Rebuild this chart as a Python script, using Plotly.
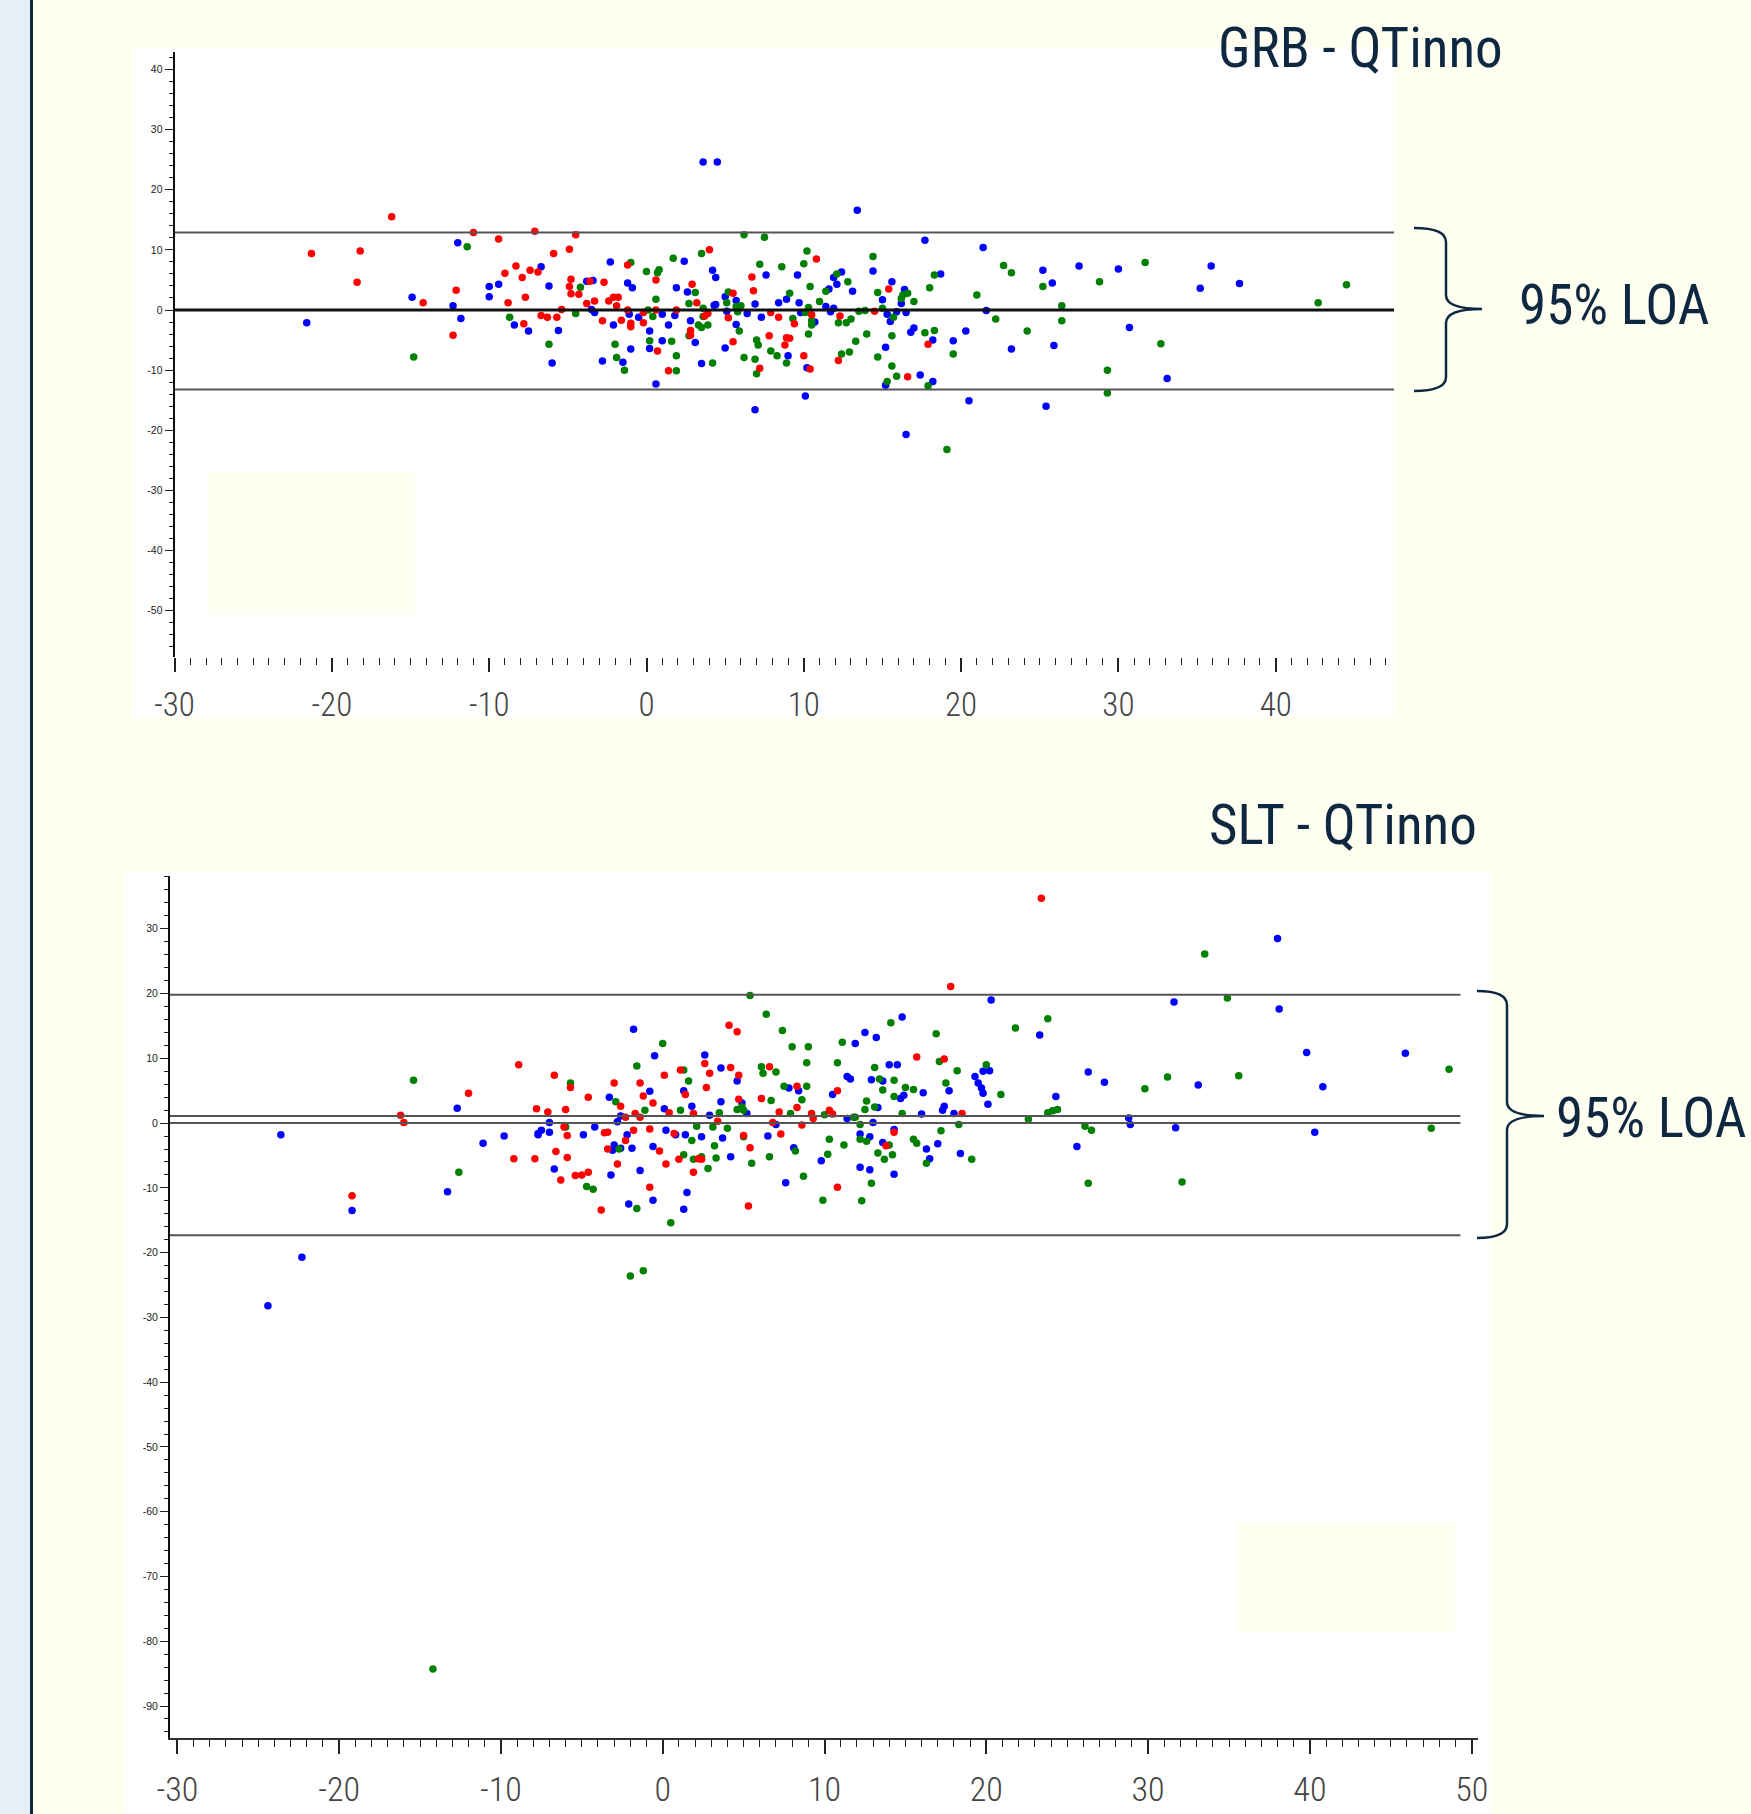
import plotly.graph_objects as go

W, H = 1751, 1814

# ---------------- GRB - QTinno (top) ----------------
grb_red_x = [-21.3, -18.2, -18.4, -16.2, -14.2, -12.1, -12.3, -11.0, -9.4, -9.0, -8.8, -8.3, -7.9, -7.7, -7.4, -6.9,
             -7.1, -7.8, -6.7, -6.3, -5.7, -5.9, -5.4, -4.9, -4.5, -4.8, -4.9, -4.8, -4.3, -3.8, -3.6, -3.3, -2.7,
             -2.8, -2.4, -2.1, -1.8, -1.9, -1.2, -1.6, -1.0, -1.0, -1.2, -0.2, -0.2, 0.6, 0.6, 0.7, 1.4, 1.9, 2.9,
             3.2, 2.8, 2.8, 3.9, 4.0, 3.7, 5.5, 5.2, 5.5, 6.7, 6.8, 7.2, 7.8, 7.9, 8.4, 8.9, 8.8, 10.8, 9.4, 9.1,
             10.5, 10.0, 10.4, 12.3, 12.2, 14.5, 15.4, 17.9, 16.6]
grb_red_y = [9.4, 9.8, 4.6, 15.5, 1.2, 3.3, -4.2, 12.9, 11.8, 6.1, 1.2, 7.3, 5.4, 2.1, 6.6, 6.3,
             13.1, -2.3, -0.9, -1.2, -1.2, 9.4, 0.1, 10.1, 12.5, 5.1, 3.9, 2.7, 2.6, 1.1, 4.8, 1.5, 4.6,
             -1.8, 1.5, 2.1, 2.1, 0.7, 0.0, -1.7, -2.2, -2.8, 7.5, -2.1, -0.4, 5.0, 0.0, -6.8, -10.1, 0.0, 4.3,
             1.2, -3.4, -4.2, -0.6, 10.0, -1.0, 2.8, -1.3, -5.3, 5.5, 3.2, -9.7, -4.3, -0.4, -1.2, -4.6, -5.8, 8.5, -2.3, -4.7,
             -0.8, -7.6, -9.8, -1.0, -8.4, -0.2, 3.5, -5.7, -11.1]

grb_blue_x = [-21.6, -14.9, -12.3, -11.8, -12.0, -10.0, -10.0, -9.4, -8.4, -7.5, -6.7, -6.2, -5.6, -6.0, -3.8, -3.4,
              -3.5, -3.3, -2.8, -2.3, -2.1, -1.5, -1.2, -0.9, -1.1, -1.0, -0.5, 0.2, 0.2, 1.0, 1.0, 0.6, 1.4, 1.8,
              1.9, 2.4, 2.6, 2.8, 3.1, 3.5, 4.2, 4.4, 4.3, 4.4, 5.0, 5.1, 5.7, 5.7, 5.0, 6.4, 6.9, 7.3, 7.6, 6.9,
              8.4, 8.9, 9.0, 3.6, 4.5, 9.7, 9.6, 9.8, 10.7, 10.2, 10.1, 11.4, 11.7, 11.9, 11.6, 11.9, 12.1, 12.4,
              13.1, 13.4, 14.4, 15.0, 15.3, 15.5, 15.6, 15.9, 16.4, 16.2, 16.5, 16.8, 17.0, 15.2, 15.2, 17.4, 18.2,
              18.2, 17.7, 18.7, 16.5, 19.5, 20.3, 20.5, 21.4, 21.6, 23.2, 25.2, 25.8, 25.9, 25.4, 27.5, 30.0, 30.7,
              33.1, 35.2, 35.9, 37.7]
grb_blue_y = [-2.1, 2.1, 0.7, -1.4, 11.2, 3.9, 2.2, 4.3, -2.5, -3.5, 7.2, 4.0, -3.4, -8.8, 4.8, 4.9,
              0.1, -0.4, -8.5, 8.0, -2.5, -8.7, 4.5, 3.7, -0.7, -6.5, -1.2, -3.5, -6.4, -0.7, -5.1, -12.3, -2.5, -0.9,
              3.7, 8.1, 3.0, -1.8, -5.4, -8.9, 6.6, 5.4, 0.8, 0.9, 2.2, -0.2, -2.4, 1.6, -6.3, -0.6, 1.0, -1.2, 5.8, -16.6,
              1.2, 1.8, -7.6, 24.6, 24.6, 1.2, 5.8, -0.4, -2.0, -9.6, -14.3, 0.6, -0.3, 0.3, 3.5, 5.4, 4.3, 6.3,
              3.1, 16.6, 6.5, 1.7, -0.7, -1.9, 4.7, -0.3, 3.4, 1.1, -0.4, -3.7, -3.0, -6.2, -12.5, -10.8, -11.9,
              -5.0, 11.6, 6.0, -20.7, -5.1, -3.5, -15.1, 10.4, -0.1, -6.5, 6.6, 4.5, -5.9, -16.0, 7.3, 6.8, -2.9,
              -11.4, 3.6, 7.3, 4.4]

grb_green_x = [-11.4, -14.8, -8.7, -6.2, -4.2, -4.5, -2.0, -1.9, -1.4, -1.0, 0.0, 0.6, 0.7, 0.8, 0.2, 0.1, 0.4,
               1.6, 1.9, 1.9, 1.7, 2.7, 2.7, 3.1, 3.5, 3.6, 3.6, 3.3, 3.5, 3.9, 4.2, 5.1, 5.2, 5.7, 5.8, 6.0, 5.9,
               6.2, 6.2, 6.9, 7.0, 7.1, 7.0, 7.2, 7.5, 7.9, 8.3, 8.6, 8.9, 9.1, 10.2, 10.0, 10.4, 9.3, 10.3, 10.1,
               10.5, 10.5, 10.3, 11.0, 11.4, 12.1, 12.8, 12.2, 12.7, 13.0, 13.3, 14.0, 12.4, 12.9, 13.5, 13.9, 14.4,
               14.7, 15.0, 14.7, 15.6, 15.6, 15.3, 15.7, 15.9, 16.2, 16.3, 16.6, 17.0, 17.7, 18.3, 18.0, 18.3, 17.9,
               19.5, 19.1, 21.0, 22.2, 22.7, 23.2, 24.2, 25.2, 26.4, 26.4, 28.8, 29.3, 29.3, 31.7, 32.7, 42.7, 44.5]
grb_green_y = [10.5, -7.8, -1.2, -5.7, 3.8, -0.6, -5.7, -7.9, -10.0, 7.9, 6.4, 1.8, 6.2, 6.7, -5.1, 0.0, -1.1,
               -5.2, -7.6, -10.1, 8.6, 1.1, -4.3, 2.9, 9.4, 0.3, -1.1, -2.5, -2.9, -2.5, -8.8, 1.2, 3.0, 0.6, -0.3, 0.7, -3.5,
               12.5, -7.9, -8.2, -5.0, -5.8, -10.6, 7.6, 12.1, -6.8, -7.6, 7.2, -8.8, 2.8, 9.8, 7.7, 3.9, -1.4, 0.4, -0.4,
               -1.8, -2.5, -4.0, 1.4, 3.1, 6.0, 4.7, -2.1, -2.1, -1.5, -5.2, -4.0, -7.3, -7.0, -0.2, -0.1, 8.9,
               2.9, 0.3, -7.8, -4.3, -9.3, -11.9, -1.2, -11.0, 1.9, 2.5, 2.8, 1.4, -3.8, -3.4, 3.7, 5.8, -12.6,
               -7.3, -23.2, 2.5, -1.5, 7.4, 6.2, -3.5, 3.9, 0.7, -1.8, 4.7, -10.0, -13.8, 7.9, -5.6, 1.2, 4.2]

grb_loa = [12.9, -13.2]
grb_mean = [0.0]

# ---------------- SLT - QTinno (bottom) ----------------
slt_blue_x = [-24.4, -23.6, -22.3, -19.2, -12.7, -13.3, -11.1, -9.8, -7.7, -7.5, -7.0, -7.7, -7.0, -6.7, -4.9, -4.2,
              -3.3, -3.2, -3.0, -2.6, -3.1, -2.8, -2.6, -2.2, -2.1, -1.8, -1.9, -1.4, -0.8, -0.5, -0.6, -0.6, 0.1,
              0.2, 0.8, 1.4, 1.3, 1.5, 1.8, 2.4, 2.6, 2.9, 1.3, 3.6, 3.6, 3.7, 4.2, 4.6, 4.9, 5.2, 6.5, 7.0, 7.8,
              8.4, 8.1, 7.6, 9.8, 10.5, 11.4, 11.4, 11.6, 11.9, 12.5, 13.2, 12.2, 12.8, 12.9, 13.6, 13.3, 13.0,
              12.2, 12.8, 13.6, 14.3, 14.3, 14.0, 14.5, 14.8, 14.7, 14.9, 16.1, 16.0, 16.3, 16.5, 17.0, 17.3, 17.4,
              17.7, 18.0, 18.4, 19.3, 19.5, 19.7, 19.8, 19.8, 20.2, 20.1, 20.3, 23.3, 24.3, 25.6, 26.3, 27.3, 28.8,
              28.9, 31.6, 31.7, 33.1, 38.0, 38.1, 39.8, 40.8, 40.3, 45.9]
slt_blue_y = [-28.2, -1.8, -20.7, -13.5, 2.3, -10.6, -3.1, -2.0, -1.6, -1.1, -1.4, -1.8, 0.1, -7.1, -1.8, -0.6,
              4.0, -8.0, -3.4, -3.9, -4.2, 0.2, 1.1, -1.8, -12.5, 14.5, -3.9, -7.3, 4.9, 10.4, -3.6, -11.9, 2.2,
              -1.1, -1.8, -1.8, -13.3, -10.7, 2.6, -2.1, 10.5, 1.2, 5.0, 3.3, 8.5, -2.3, -5.2, 6.5, 3.1, 1.5, -2.0, -0.2, 5.4,
              5.0, -3.8, -9.2, -5.8, 4.4, 0.7, 7.2, 6.8, 12.3, 14.0, 13.2, -1.7, -2.1, 6.7, 6.5, 2.4, 0.1,
              -6.8, -7.2, -3.0, -1.0, -7.9, 9.0, 9.0, 16.4, 3.8, 4.3, 4.7, 1.4, -4.0, -5.5, -3.2, 2.0, 2.6,
              5.0, 1.5, -4.7, 7.2, 6.2, 5.4, 4.6, 8.0, 8.1, 2.9, 19.0, 13.6, 4.1, -3.6, 7.9, 6.3, 0.8,
              -0.2, 18.7, -0.7, 5.9, 28.5, 17.6, 10.9, 5.6, -1.4, 10.8]

slt_red_x = [-19.2, -16.2, -16.0, -12.0, -8.9, -9.2, -7.9, -7.8, -7.1, -6.7, -5.7, -6.1, -5.9, -6.0, -6.6, -5.9,
             -6.3, -5.4, -5.0, -4.6, -4.6, -3.8, -3.6, -3.4, -3.4, -2.8, -3.0, -2.6, -2.3, -2.3, -1.8, -1.7, -1.4,
             -1.4, -1.2, -0.6, -0.8, -0.8, -0.2, 0.1, 0.2, 0.4, 0.7, 1.0, 1.1, 1.4, 1.9, 1.9, 2.2, 2.4, 2.6, 2.9,
             2.7, 3.4, 4.1, 4.6, 4.2, 4.7, 4.7, 5.0, 5.4, 5.3, 6.1, 6.6, 6.8, 7.3, 7.2, 8.3, 8.3, 8.6, 9.2, 9.3,
             10.3, 10.5, 10.8, 10.8, 13.8, 14.3, 15.7, 17.4, 17.8, 18.5, 23.4]
slt_red_y = [-11.2, 1.2, 0.1, 4.6, 9.0, -5.5, -5.5, 2.2, 1.7, 7.4, 5.5, -0.6, -1.9, 2.1, -4.4, -5.3,
             -8.8, -8.1, -8.0, -7.6, 4.0, -13.4, -1.5, -1.4, -4.0, -6.3, 6.2, 2.6, 0.9, -2.7, -1.1, 1.5, 0.9,
             6.2, 4.2, 3.1, -0.9, -9.9, -4.3, 7.4, -6.3, 1.6, -1.6, -5.6, 8.2, 4.4, 1.5, -7.6, -5.5, -5.6, 9.2, 7.7,
             5.5, 0.3, 15.1, 14.1, 8.6, 7.4, 3.7, -1.9, -3.8, -12.8, 3.8, 8.7, 0.1, -1.7, 1.7, 5.7, 2.4, -0.3, 1.5, 0.7,
             2.0, 1.4, 5.0, -9.9, -3.5, -1.4, 10.2, 9.9, 21.1, 1.5, 34.7]

slt_green_x = [-15.4, -12.6, -5.7, -6.0, -4.7, -4.3, -2.9, -2.7, -2.0, -1.2, -1.6, -1.6, -1.1, 0.0, 0.5, 1.3, 1.6,
               1.1, 1.3, 1.8, 1.9, 2.1, 2.4, 2.8, 3.1, 3.2, 3.3, 3.5, 4.0, 4.6, 5.4, 4.9, 5.0, 5.0, 5.5, 6.4, 7.4,
               6.1, 6.2, 7.0, 6.7, 6.6, 7.5, 7.9, 8.0, 9.0, 8.9, 8.9, 8.6, 8.2, 8.7, 9.9, 10.3, 10.2, 10.0, 10.8,
               11.1, 11.2, 11.8, 11.9, 12.2, 12.3, 12.2, 12.6, 12.5, 12.6, 12.9, 13.1, 13.1, 13.4, 13.6, 13.3, 13.7,
               14.0, 14.2, 14.1, 14.3, 14.3, 14.8, 15.0, 15.5, 15.5, 15.7, 16.3, 16.9, 17.1, 17.2, 17.5, 18.2, 18.3,
               19.1, 20.0, 20.9, 21.8, 22.6, 23.8, 23.8, 24.1, 24.4, 26.1, 26.5, 26.3, 29.8, 31.2, 32.1, 33.5, 34.9,
               35.6, 47.5, 48.6, -14.2]
slt_green_y = [6.6, -7.6, 6.2, -0.6, -9.8, -10.2, 3.3, -4.0, -23.6, -22.8, -13.2, 8.8, 2.0, 12.3, -15.4, 8.2, 6.5,
               2.0, -4.9, -2.7, -5.6, -0.5, -5.2, -7.0, -0.6, -3.5, -5.4, 1.6, -0.8, 2.1, 19.7, 2.5, 2.0, -2.1, -6.2, 16.8, 14.3,
               8.7, 7.7, 7.9, 3.5, -5.2, 5.7, 1.5, 11.8, 11.8, 9.3, 5.7, 3.6, -4.3, -8.2, -11.9, -2.5, -4.8, 1.3, 9.3,
               12.5, -3.4, 0.9, 0.9, -0.2, -12.0, -2.5, -2.8, 2.1, 3.4, -9.3, 8.6, 2.5, 6.8, 5.1, -4.6, -5.6,
               -3.4, -4.9, 15.5, 4.1, 6.6, 1.5, 5.5, 5.2, -2.5, -3.1, -6.2, 13.8, 9.5, -1.2, 6.2, 8.1, -0.2,
               -5.6, 9.0, 4.4, 14.7, 0.6, 16.1, 1.6, 1.9, 2.1, -0.5, -1.1, -9.3, 5.3, 7.1, -9.1, 26.1, 19.3,
               7.3, -0.8, 8.3, -84.3]

slt_loa = [19.8, -17.3]
slt_mean = [1.1, 0.0]

titles = ["GRB - QTinno", "SLT - QTinno"]
loa_label = "95% LOA"
grb_yticks = [40, 30, 20, 10, 0, -10, -20, -30, -40, -50]
slt_yticks = [30, 20, 10, 0, -10, -20, -30, -40, -50, -60, -70, -80, -90]
grb_xticks = [-30, -20, -10, 0, 10, 20, 30, 40]
slt_xticks = [-30, -20, -10, 0, 10, 20, 30, 40, 50]

# ---------------- helpers ----------------
def px(x):
    return x / W

def py(y):
    return 1 - y / H

CREAM = "#FEFEF1"
NAVY = "#0E2841"
NARROW = "Roboto Condensed, Roboto, Liberation Sans Narrow, sans-serif"

fig = go.Figure()
mk = dict(size=7.5, line=dict(width=0))
for xs, ys, col, xa, ya in [
    (grb_blue_x, grb_blue_y, "#0000FF", "x", "y"),
    (grb_green_x, grb_green_y, "#008000", "x", "y"),
    (grb_red_x, grb_red_y, "#FF0000", "x", "y"),
    (slt_blue_x, slt_blue_y, "#0000FF", "x2", "y2"),
    (slt_green_x, slt_green_y, "#008000", "x2", "y2"),
    (slt_red_x, slt_red_y, "#FF0000", "x2", "y2"),
]:
    fig.add_trace(go.Scatter(x=xs, y=ys, mode="markers", xaxis=xa, yaxis=ya,
                             marker=dict(color=col, **mk), showlegend=False, hoverinfo="skip"))

# pixel calibration of the two panels
top_x0, top_x1 = -30.0, (1394 - 646.5) / 15.73
top_y0, top_y1 = (310 - 657) / 6.014, (310 - 52) / 6.014
bot_x0, bot_x1 = (170 - 662.7) / 16.18, (1478 - 662.7) / 16.18
bot_y0, bot_y1 = (1123.1 - 1738) / 6.477, (1123.1 - 875.5) / 6.477

shapes = []
# left strip
shapes.append(dict(type="rect", xref="paper", yref="paper", x0=0, x1=px(30), y0=0, y1=1,
                   fillcolor="#E6EEF6", line=dict(width=0), layer="below"))
shapes.append(dict(type="rect", xref="paper", yref="paper", x0=px(30), x1=px(33), y0=0, y1=1,
                   fillcolor=NAVY, line=dict(width=0), layer="below"))
# white panels
shapes.append(dict(type="rect", xref="paper", yref="paper", x0=px(133), x1=px(1394), y0=py(717), y1=py(49),
                   fillcolor="white", line=dict(width=0), layer="below"))
shapes.append(dict(type="rect", xref="paper", yref="paper", x0=px(125), x1=px(1490), y0=0, y1=py(873),
                   fillcolor="white", line=dict(width=0), layer="below"))

# reference lines
for v in grb_loa:
    shapes.append(dict(type="line", xref="x", yref="y", x0=top_x0, x1=top_x1, y0=v, y1=v,
                       line=dict(color="#555555", width=2)))
for v in grb_mean:
    shapes.append(dict(type="line", xref="x", yref="y", x0=top_x0, x1=top_x1, y0=v, y1=v,
                       line=dict(color="#111111", width=3)))
for v in slt_loa + slt_mean:
    shapes.append(dict(type="line", xref="x2", yref="y2", x0=bot_x0, x1=49.3, y0=v, y1=v,
                       line=dict(color="#555555", width=2)))

# cream cover boxes
shapes.append(dict(type="rect", xref="paper", yref="paper", x0=px(208), x1=px(415), y0=py(615), y1=py(471),
                   fillcolor=CREAM, line=dict(width=0), layer="above"))
shapes.append(dict(type="rect", xref="paper", yref="paper", x0=px(1237), x1=px(1455), y0=py(1633), y1=py(1522),
                   fillcolor=CREAM, line=dict(width=0), layer="above"))

def brace(xl, xv, xt, ytop, ymid, ybot):
    r = 14
    pts = (f"M {px(xl)},{py(ytop)} Q {px(xv)},{py(ytop)} {px(xv)},{py(ytop + r)} "
           f"L {px(xv)},{py(ymid - r)} Q {px(xv)},{py(ymid)} {px(xt)},{py(ymid)} "
           f"Q {px(xv)},{py(ymid)} {px(xv)},{py(ymid + r)} "
           f"L {px(xv)},{py(ybot - r)} Q {px(xv)},{py(ybot)} {px(xl)},{py(ybot)}")
    return dict(type="path", xref="paper", yref="paper", path=pts, line=dict(color=NAVY, width=2.5))

shapes.append(brace(1414, 1446, 1482, 228, 309, 391))
shapes.append(brace(1477, 1507, 1544, 991, 1116, 1238))

tfont = dict(family=NARROW, size=55, color=NAVY)
annotations = [
    dict(text=titles[0], x=px(1360), y=py(48), xref="paper", yref="paper", showarrow=False,
         xanchor="center", yanchor="middle", font=tfont),
    dict(text=loa_label, x=px(1614), y=py(305), xref="paper", yref="paper", showarrow=False,
         xanchor="center", yanchor="middle", font=tfont),
    dict(text=titles[1], x=px(1343), y=py(825), xref="paper", yref="paper", showarrow=False,
         xanchor="center", yanchor="middle", font=tfont),
    dict(text=loa_label, x=px(1748), y=py(1118), xref="paper", yref="paper", showarrow=False,
         xanchor="right", yanchor="middle", font=tfont),
]

ytick_font = dict(family="Liberation Sans, Arial, sans-serif", size=10.5, color="#222222")

common = dict(showgrid=False, zeroline=False, automargin=False, tickmode="array")

fig.update_layout(
    width=W, height=H, margin=dict(l=0, r=0, t=0, b=0, pad=0, autoexpand=False),
    paper_bgcolor=CREAM, plot_bgcolor="rgba(0,0,0,0)",
    shapes=shapes, annotations=annotations, showlegend=False,
    xaxis=dict(domain=[px(174.6), px(1394)], range=[top_x0, top_x1], anchor="y", showline=False,
               tickvals=grb_xticks, ticktext=[str(t) for t in grb_xticks],
               ticks="outside", ticklen=14, tickwidth=1.5, tickcolor="#222222",
               minor=dict(dtick=1, tick0=0, ticks="outside", ticklen=7, tickwidth=1.3, tickcolor="#222222", showgrid=False),
               tickfont=dict(family=NARROW, size=33, color="#444444", weight=300), ticklabelstandoff=4, **common),
    yaxis=dict(domain=[py(657), py(52)], range=[top_y0, top_y1], anchor="x",
               showline=True, linecolor="#111111", linewidth=2,
               tickvals=grb_yticks, ticktext=[str(t) for t in grb_yticks],
               ticks="outside", ticklen=8, tickwidth=1.3, tickcolor="#222222",
               minor=dict(dtick=2, tick0=0, ticks="outside", ticklen=4, tickwidth=1.2, tickcolor="#222222", showgrid=False),
               tickfont=ytick_font, **common),
    xaxis2=dict(domain=[px(170), px(1478)], range=[bot_x0, bot_x1], anchor="y2",
                showline=True, linecolor="#333333", linewidth=2,
                tickvals=slt_xticks, ticktext=[str(t) for t in slt_xticks],
                ticks="outside", ticklen=14, tickwidth=1.5, tickcolor="#222222",
                minor=dict(dtick=1, tick0=0, ticks="outside", ticklen=7, tickwidth=1.3, tickcolor="#222222", showgrid=False),
                tickfont=dict(family=NARROW, size=34, color="#444444", weight=300), ticklabelstandoff=6, **common),
    yaxis2=dict(domain=[py(1738), py(875.5)], range=[bot_y0, bot_y1], anchor="x2",
                showline=True, linecolor="#111111", linewidth=2,
                tickvals=slt_yticks, ticktext=[str(t) for t in slt_yticks],
                ticks="outside", ticklen=8, tickwidth=1.3, tickcolor="#222222",
                minor=dict(dtick=2, tick0=0, ticks="outside", ticklen=4, tickwidth=1.2, tickcolor="#222222", showgrid=False),
                tickfont=ytick_font, **common),
)

fig.write_html("out.html", config={"displayModeBar": False},
               post_script="document.body.style.margin='0';document.body.style.overflow='hidden';"
                           "document.body.style.background='#FEFEF1';")
